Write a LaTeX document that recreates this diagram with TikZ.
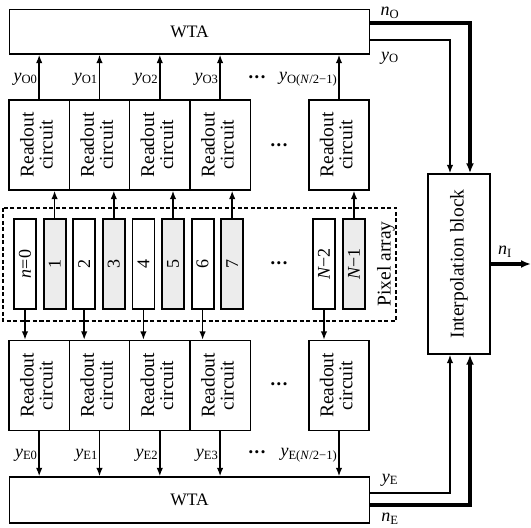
\documentclass[tikz,border=0pt]{standalone}
\usepackage{fontspec}
\setmainfont{Liberation Serif}
\usetikzlibrary{arrows.meta}

\tikzset{
  bloc/.style={draw, line width=1.4pt, inner sep=0pt, font=\fontsize{19.5}{19}\selectfont},
  lecture/.style={bloc, minimum width=60.3pt, minimum height=90pt},
  pixel/.style={draw, line width=1.8pt, minimum width=22pt, minimum height=90pt, inner sep=0pt, font=\fontsize{18}{18}\selectfont},
  fleche/.style={line width=1.5pt, -{Latex[length=8.5pt,width=6.5pt]}},
  bus/.style={line width=3.2pt, -{Latex[length=10pt,width=8pt]}},
  etiq/.style={font=\fontsize{18}{18}\selectfont, inner sep=1pt}
}
\newcommand{\lect}{\rotatebox{90}{\begin{tabular}{@{}c@{}}Readout\\circuit\end{tabular}}}
\newcommand{\pointilles}{{\fontsize{13}{13}\selectfont •\hspace{1.5pt}•\hspace{1.5pt}•}}

\begin{document}
\begin{tikzpicture}[x=1pt,y=1pt]
  \definecolor{gris}{RGB}{236,236,236}
  \useasboundingbox (0,0) rectangle (531,528);
  % WTA blocks
  \node[bloc, minimum width=360pt, minimum height=44.5pt, font=\fontsize{17.5}{17}\selectfont] (wtah) at (189.5,496.25) {WTA};
  \node[bloc, minimum width=360pt, minimum height=46pt, font=\fontsize{17.5}{17}\selectfont] (wtab) at (189.5,28) {WTA};
  % readout circuits
  \foreach \i/\cx in {1/39.2,2/99.5,3/159.8,4/220.1,5/339} {
    \node[lecture] (lh\i) at (\cx,383) {\lect};
    \node[lecture] (lb\i) at (\cx,142.5) {\lect};
  }
  % pixel array
  \draw[dashed, dash pattern=on 4pt off 2.5pt, line width=1.1pt] (3,320) rectangle (396,207);
  \foreach \k/\cx/\txt/\teinte in {0/25/{\textit{n}=0}/white, 1/54.6/1/gris, 2/84.2/2/white, 3/113.8/3/gris,
      4/143.4/4/white, 5/173/5/gris, 6/202.6/6/white, 7/232.2/7/gris, 8/324/{\textit{N}−2}/white, 9/354/{\textit{N}−1}/gris}
    \node[pixel, fill=\teinte] (p\k) at (\cx,264) {\rotatebox{90}{\txt}};
  \node[rotate=90, font=\fontsize{19.5}{19}\selectfont] (pa) at (386,264) {Pixel array};
  % pixels to readout circuits
  \foreach \a/\b in {1/1,3/2,5/3,7/4,9/5}
    \draw[fleche] (p\a.north) -- (p\a.north |- lh\b.south);
  \foreach \a/\b in {0/1,2/2,4/3,6/4,8/5}
    \draw[fleche] (p\a.south) -- (p\a.south |- lb\b.north);
  % readout circuits to WTA
  \foreach \b in {1,...,5} {
    \draw[fleche] (lh\b.north) -- (lh\b.north |- wtah.south);
    \draw[fleche] (lb\b.south) -- (lb\b.south |- wtab.north);
  }
  \foreach \b/\s in {1/O0,2/O1,3/O2,4/O3,5/{O(\textit{N}/2−1)}}
    \node[etiq, anchor=east, xshift=-0.5pt] (yo\b) at (lh\b.north |- 0,449) {\textit{y}\textsubscript{\s}};
  \foreach \b/\s in {1/E0,2/E1,3/E2,4/E3,5/{E(\textit{N}/2−1)}}
    \node[etiq, anchor=east, xshift=-0.5pt] (ye\b) at (lb\b.south |- 0,73) {\textit{y}\textsubscript{\s}};
  % dots
  \node (d1) at (257,449) {\pointilles};
  \node (d2) at (279,381) {\pointilles};
  \node (d3) at (279,263) {\pointilles};
  \node (d4) at (279,142) {\pointilles};
  \node (d5) at (257,74) {\pointilles};
  % interpolation
  \node[bloc, minimum width=62pt, minimum height=180pt] (interp) at (459,264) {\rotatebox{90}{Interpolation block}};
  \coordinate (sortie) at (531,264);
  \draw[bus] (wtah.east |- 0,505) -| ([xshift=11pt]interp.north);
  \draw[fleche] (wtah.east |- 0,488) -| ([xshift=-9pt]interp.north);
  \draw[fleche] (wtab.east |- 0,35) -| ([xshift=-9pt]interp.south);
  \draw[bus] (wtab.east |- 0,23) -| ([xshift=11pt]interp.south);
  \draw[bus] (interp.east) -- (sortie);
  \node[etiq] (nO) at (390,515) {\textit{n}\textsubscript{O}};
  \node[etiq] (yO) at (390,470) {\textit{y}\textsubscript{O}};
  \node[etiq] (yE) at (390,48) {\textit{y}\textsubscript{E}};
  \node[etiq] (nE) at (390,9) {\textit{n}\textsubscript{E}};
  \node[etiq] (nI) at (505,276) {\textit{n}\textsubscript{I}};
\end{tikzpicture}
\end{document}
